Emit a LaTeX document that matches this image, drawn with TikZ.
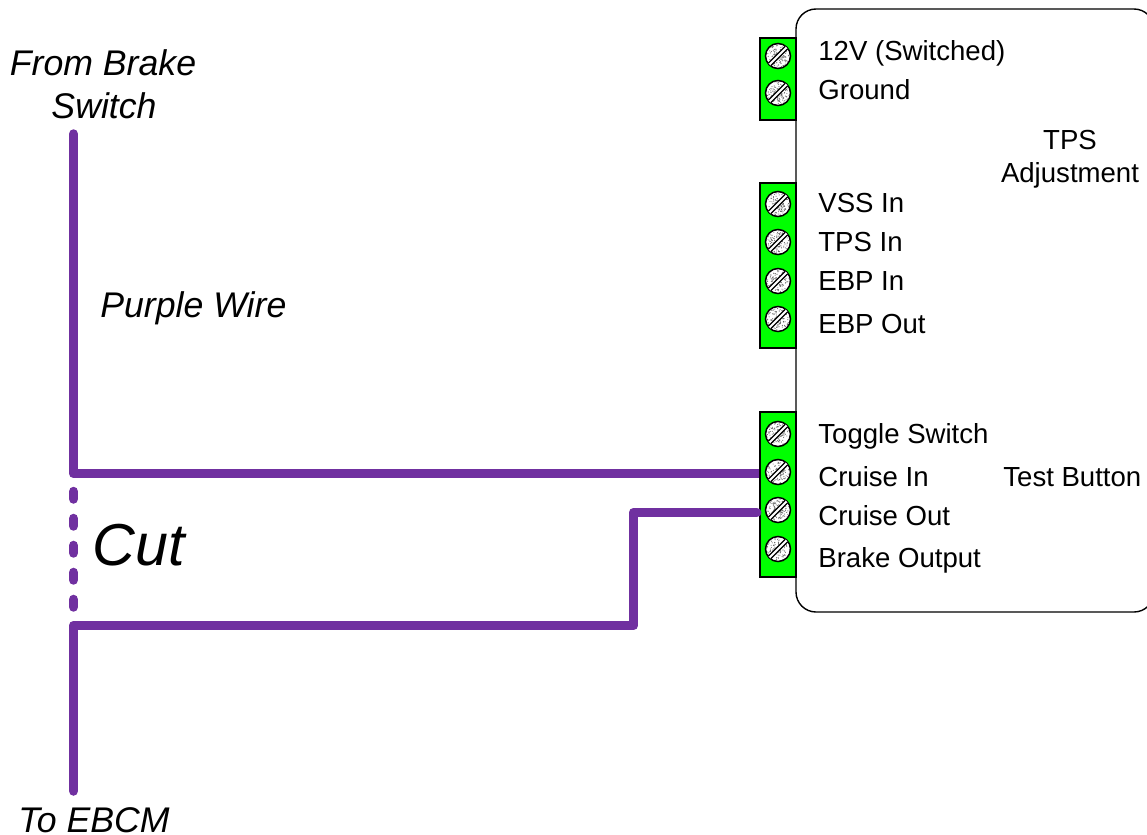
\documentclass[tikz,border=0pt]{standalone}
\usepackage{fontspec}
\setmainfont{Liberation Sans}
\usetikzlibrary{calc,backgrounds}
\definecolor{wirepurple}{RGB}{112,48,160}
\definecolor{blockgreen}{RGB}{0,255,0}
\tikzset{
  wire/.style={draw=wirepurple,line width=0.19cm,line cap=round,line join=round},
  cutwire/.style={wire,dash pattern=on 0.15cm off 0.39cm},
  block/.style={draw=black,fill=blockgreen,line width=0.03cm,minimum width=0.72cm,inner sep=0pt},
  screw/.style={circle,draw=black,fill=white,line width=0.03cm,minimum size=0.5cm,inner sep=0pt},
  pinlabel/.style={anchor=base west,inner sep=0pt,font=\fontsize{15.7}{18}\selectfont},
  textlabel/.style={anchor=base,inner sep=0pt,font=\fontsize{15.7}{18}\selectfont},
  wirelabel/.style={anchor=base,inner sep=0pt,font=\fontsize{20.3}{24}\selectfont\itshape},
}
% One screw of a terminal block: name, y position
\newcommand{\drawscrew}[2]{%
  \node[screw] (#1) at (778,#2) {};
  \foreach \i in {1,...,110} {
    \pgfmathsetmacro{\a}{360*rnd}
    \pgfmathsetmacro{\r}{2+9.5*rnd}
    \fill[black!60] (#1) ++(\a:\r*0.02cm) circle (0.011cm);
  }
  \fill[white] ($(#1)+(-9.7,7.3)$) -- ($(#1)+(7.3,-9.7)$) -- ($(#1)+(9.7,-7.3)$) -- ($(#1)+(-7.3,9.7)$) -- cycle;
  \draw[line width=0.025cm] ($(#1)+(-9.7,7.3)$) -- ($(#1)+(7.3,-9.7)$);
  \draw[line width=0.025cm] ($(#1)+(-7.3,9.7)$) -- ($(#1)+(9.7,-7.3)$);
}
\begin{document}
\begin{tikzpicture}[x=0.02cm,y=-0.02cm]
\useasboundingbox (0,0) rectangle (1147,835);
\pgfmathsetseed{4711}

% Drawing controller body
\draw[line width=0.028cm,rounded corners=0.4cm] (796,9) rectangle (1154,612);

% Drawing wires
\coordinate (brakeend) at (73.5,134);
\coordinate (upperjoin) at (73.5,473.5);
\coordinate (cutstart) at (73.5,491.5);
\coordinate (cutend) at (73.5,607);
\coordinate (lowerjoin) at (73.5,625.5);
\coordinate (ebcmend) at (73.5,791);
\coordinate (riser) at (633.5,625.5);
\coordinate (riserend) at (633.5,512.5);

% Drawing terminal blocks
\node[block,minimum height=1.64cm] (powerblock) at (778,79) {};
\node[block,minimum height=3.3cm] (sensorblock) at (778,265.5) {};
\node[block,minimum height=3.3cm] (cruiseblock) at (778,494.5) {};

\begin{scope}[on background layer]
\draw[wire] (brakeend) -- (upperjoin) -- (upperjoin -| cruiseblock.west);
\end{scope}
\draw[cutwire] (cutstart) -- (cutend);
\draw[wire,shorten >=0.05cm] (ebcmend) -- (lowerjoin) -- (riser) -- (riserend) -- (riserend -| cruiseblock.west);

% Drawing screws
\drawscrew{pwr}{56}
\drawscrew{gnd}{93}
\drawscrew{vss}{204}
\drawscrew{tps}{242}
\drawscrew{ebpin}{281}
\drawscrew{ebpout}{319}
\drawscrew{toggle}{434}
\drawscrew{cruisein}{472}
\drawscrew{cruiseout}{510}
\drawscrew{brakeout}{549}

% Drawing labels
\node[pinlabel] (lpwr) at (818,60) {12V (Switched)};
\node[pinlabel] (lgnd) at (818,99) {Ground};
\node[pinlabel] (lvss) at (818,212) {VSS In};
\node[pinlabel] (ltps) at (818,251) {TPS In};
\node[pinlabel] (lebpin) at (818,290) {EBP In};
\node[pinlabel] (lebpout) at (818,333) {EBP Out};
\node[pinlabel] (ltoggle) at (818,443) {Toggle Switch};
\node[pinlabel] (lcruisein) at (818,486) {Cruise In};
\node[pinlabel] (lcruiseout) at (818,525) {Cruise Out};
\node[pinlabel] (lbrakeout) at (818,567) {Brake Output};
\node[textlabel] (ltpsadj) at (1070,149) {TPS};
\node[textlabel] (ladjust) at (1070,182) {Adjustment};
\node[pinlabel] (ltest) at (1003,486) {Test Button};
\node[wirelabel] (lfrom) at (103,75) {From Brake};
\node[wirelabel] (lswitch) at (104,118) {Switch};
\node[wirelabel,anchor=base west] (lpurple) at (100,317) {Purple Wire};
\node[inner sep=0pt,anchor=base west,font=\fontsize{33.7}{38}\selectfont\itshape] (lcut) at (92,565) {Cut};
\node[wirelabel,anchor=base west] (lebcm) at (18,832) {To EBCM};
\end{tikzpicture}
\end{document}
